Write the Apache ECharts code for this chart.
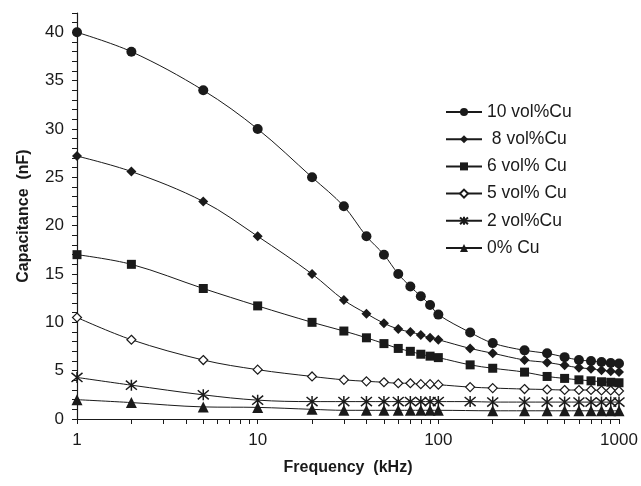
<!DOCTYPE html>
<html>
<head>
<meta charset="utf-8">
<script src="https://cdn.jsdelivr.net/npm/echarts@6/dist/echarts.min.js"></script>
<style>
html, body { margin: 0; padding: 0; background: #fff; }
#chart { width: 641px; height: 486px; }
</style>
</head>
<body>
<div id="chart"></div>
<script>
// frequency (kHz)
var freqs = [1, 2, 5, 10, 20, 30, 40, 50, 60, 70, 80, 90, 100, 150, 200, 300, 400, 500, 600, 700, 800, 900, 1000];
var freqsNo150 = [1, 2, 5, 10, 20, 30, 40, 50, 60, 70, 80, 90, 100, 200, 300, 400, 500, 600, 700, 800, 900, 1000];

// capacitance (nF)
var cu10 = [40, 38, 34, 30, 25, 22, 18.9, 17, 15, 13.7, 12.7, 11.8, 10.8, 8.95, 7.85, 7.1, 6.8, 6.4, 6.1, 6.0, 5.9, 5.8, 5.75];
var cu8 = [27.2, 25.6, 22.5, 18.9, 15, 12.3, 10.9, 9.9, 9.3, 9.0, 8.7, 8.4, 8.2, 7.3, 6.8, 6.1, 5.85, 5.55, 5.3, 5.2, 5.05, 4.95, 4.85];
var cu6 = [17, 16, 13.5, 11.7, 10, 9.1, 8.4, 7.8, 7.3, 7.0, 6.7, 6.5, 6.35, 5.6, 5.25, 4.85, 4.4, 4.2, 4.05, 3.95, 3.85, 3.8, 3.75];
var cu5 = [10.5, 8.2, 6.1, 5.1, 4.4, 4.05, 3.9, 3.8, 3.7, 3.7, 3.6, 3.6, 3.55, 3.3, 3.2, 3.1, 3.05, 3.0, 3.0, 3.0, 2.95, 2.95, 2.9];
var cu2 = [4.3, 3.5, 2.5, 1.95, 1.8, 1.8, 1.8, 1.8, 1.8, 1.8, 1.8, 1.8, 1.8, 1.8, 1.75, 1.75, 1.75, 1.75, 1.75, 1.75, 1.75, 1.75, 1.75];
var cu0 = [2.0, 1.7, 1.25, 1.2, 1.0, 0.9, 0.9, 0.9, 0.9, 0.9, 0.9, 0.9, 0.9, 0.85, 0.85, 0.85, 0.85, 0.85, 0.85, 0.85, 0.85, 0.85];

var names = ['10 vol%Cu', ' 8 vol%Cu', '6 vol% Cu', '5 vol% Cu', '2 vol%Cu', '0% Cu'];

// axis ticks
var yLabelValues = [0, 5, 10, 15, 20, 25, 30, 35, 40];
var yTickValues = [];
for (var i = 0; i <= 42; i++) yTickValues.push(i);
var xTickDecades = [1, 10, 100];
var xTickValues = [];
xTickDecades.forEach(function (d) {
    for (var k = 1; k < 10; k++) xTickValues.push(Math.log10(k * d));
});
xTickValues.push(3);

function pairs(xs, ys) {
    return xs.map(function (x, i) { return [x, ys[i]]; });
}

var ink = '#1a1a1a';
var font = 'Liberation Sans, Arial, sans-serif';
var star = 'path://M0,0L10,10M10,0L0,10M5,-1L5,11';

function line(name, data, symbol, size, fill, bw) {
    return {
        name: name,
        type: 'line',
        xAxisIndex: 0,
        data: data,
        smooth: 0.35,
        symbol: symbol,
        symbolSize: size,
        showAllSymbol: true,
        lineStyle: { color: ink, width: 1 },
        itemStyle: {
            color: fill,
            borderColor: ink,
            borderWidth: bw || 0
        },
        emphasis: { disabled: true },
        z: 3
    };
}

var myChart = echarts.init(document.getElementById('chart'));
var option = {
    backgroundColor: '#fff',
    animation: false,
    textStyle: { fontFamily: font, color: ink },
    grid: { left: 77, right: 22, top: 13, bottom: 67 },
    legend: {
        orient: 'vertical',
        left: 445,
        top: 103,
        padding: 0,
        itemWidth: 36,
        itemHeight: 10,
        itemGap: 9.2,
        textStyle: { fontFamily: font, fontSize: 17.5, color: ink, lineHeight: 17 },
        data: names
    },
    xAxis: [{
        type: 'log',
        logBase: 10,
        min: 1,
        max: 1000,
        position: 'bottom',
        name: 'Frequency  (kHz)',
        nameLocation: 'middle',
        nameGap: 41,
        nameTextStyle: { fontFamily: font, fontSize: 16, fontWeight: 'bold', color: ink },
        axisLine: { onZero: false, lineStyle: { color: ink, width: 1.2 } },
        axisTick: { show: false },
        axisLabel: {
            fontFamily: font, fontSize: 17, color: ink, margin: 13,
            formatter: function (v) { return String(v); }
        },
        splitLine: { show: false },
        minorTick: { show: false },
        minorSplitLine: { show: false }
    }, {
        // minor ticks of the log axis (2..9 in each decade)
        type: 'value',
        min: 0,
        max: 3,
        position: 'bottom',
        axisLine: { show: false, onZero: false },
        axisTick: { show: true, length: 5, customValues: xTickValues, lineStyle: { color: ink, width: 1 } },
        axisLabel: { show: false },
        splitLine: { show: false }
    }],
    yAxis: {
        type: 'value',
        min: 0,
        max: 42,
        name: 'Capacitance  (nF)',
        nameLocation: 'middle',
        nameGap: 45,
        nameTextStyle: { fontFamily: font, fontSize: 16, fontWeight: 'bold', color: ink },
        axisLine: { show: true, lineStyle: { color: ink, width: 1.2 } },
        axisTick: { show: true, length: 5, customValues: yTickValues, lineStyle: { color: ink, width: 1 } },
        axisLabel: { fontFamily: font, fontSize: 17, color: ink, margin: 13, customValues: yLabelValues },
        splitLine: { show: false }
    },
    series: [
        line(names[0], pairs(freqs, cu10), 'circle', 10, ink),
        line(names[1], pairs(freqs, cu8), 'diamond', 10, ink),
        line(names[2], pairs(freqs, cu6), 'rect', 9, ink),
        line(names[3], pairs(freqs, cu5), 'diamond', 9, '#fff', 1.2),
        line(names[4], pairs(freqs, cu2), star, 11, 'none', 1.5),
        line(names[5], pairs(freqsNo150, cu0), 'triangle', 11, ink)
    ]
};

if (option && typeof option === 'object') {
    myChart.setOption(option, true);
}
</script>
</body>
</html>
